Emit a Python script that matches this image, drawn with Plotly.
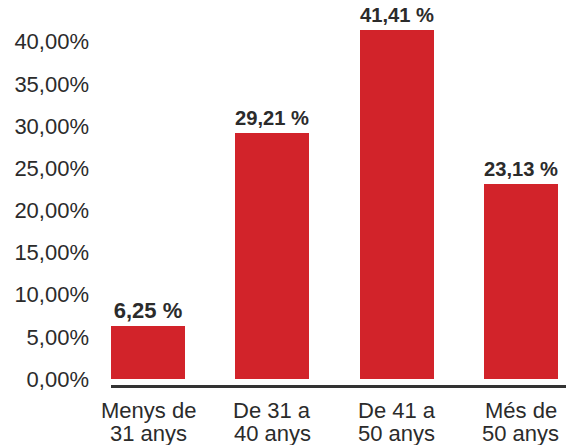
import plotly.graph_objects as go

# Age groups and share of people in each group (%)
cat_line1 = ["Menys de", "De 31 a", "De 41 a", "Més de"]
cat_line2 = ["31 anys", "40 anys", "50 anys", "50 anys"]
values = [6.25, 29.21, 41.41, 23.13]
value_labels = ["6,25 %", "29,21 %", "41,41 %", "23,13 %"]
tick_vals = [0, 5, 10, 15, 20, 25, 30, 35, 40]
tick_text = ["0,00%", "5,00%", "10,00%", "15,00%", "20,00%", "25,00%", "30,00%", "35,00%", "40,00%"]

RED = "#d2232a"
TEXT = "#2b2b2b"
FONT = "Liberation Sans"

xs = list(range(len(values)))

fig = go.Figure(
    go.Bar(
        x=xs,
        y=values,
        marker=dict(color=RED, line=dict(width=0)),
        width=0.595,
        text=value_labels,
        textposition="outside",
        textfont=dict(family=FONT, size=22, color=TEXT, weight="bold"),
        cliponaxis=False,
    )
)

# Two-line category labels under each bar
for x, l1, l2 in zip(xs, cat_line1, cat_line2):
    for line, shift in ((l1, -25), (l2, -48)):
        fig.add_annotation(
            x=x, xref="x", y=0, yref="paper",
            text=line, showarrow=False,
            yshift=shift, yanchor="middle", xanchor="center",
            font=dict(family=FONT, size=22, color=TEXT),
        )

fig.update_layout(
    width=566,
    height=445,
    margin=dict(l=111, r=0, t=10, b=60),
    plot_bgcolor="white",
    paper_bgcolor="white",
    showlegend=False,
    bargap=0,
    font=dict(family=FONT, size=22, color=TEXT),
)

fig.update_xaxes(
    range=[-0.2977, 3.363],
    tickvals=xs,
    showticklabels=False,
    showline=True,
    linecolor="#333333",
    linewidth=2.5,
    showgrid=False,
    zeroline=False,
    ticks="",
)

fig.update_yaxes(
    range=[-0.71, 43.77],
    tickmode="array",
    tickvals=tick_vals,
    ticktext=tick_text,
    showgrid=False,
    zeroline=False,
    showline=False,
    ticks="",
    ticklabelstandoff=21,
    tickfont=dict(family=FONT, size=22, color=TEXT),
)

fig.write_html("out.html")
